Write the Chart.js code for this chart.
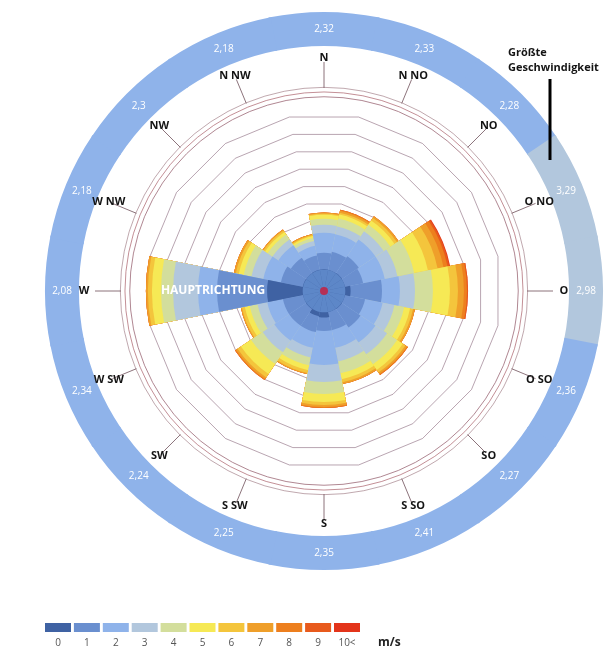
<!DOCTYPE html>
<html>
<head>
<meta charset="utf-8">
<title>Windrose</title>
<script src="https://cdn.jsdelivr.net/npm/chart.js@4.4.0/dist/chart.umd.min.js"></script>
<style>
  html, body { margin: 0; padding: 0; background: #fff; }
  #wrap { width: 609px; height: 663px; position: relative; }
</style>
</head>
<body>
<div id="wrap"><canvas id="windRose"></canvas></div>
<script>
// Himmelsrichtungen im Uhrzeigersinn ab Norden
const directions = ['N', 'N NO', 'NO', 'O NO', 'O', 'O SO', 'SO', 'S SO', 'S', 'S SW', 'SW', 'W SW', 'W', 'W NW', 'NW', 'N NW'];

// Geschwindigkeitsklassen (Legende)
const speedLabels = ['0', '1', '2', '3', '4', '5', '6', '7', '8', '9', '10<'];
const speedColors = ['#3f62a3', '#6a8fcf', '#8fb3ea', '#b2c7dd', '#d3de9c', '#f6e955',
                     '#f4c53c', '#ef9f2a', '#ed7f1e', '#e85a1c', '#e3341a'];
const calmColor = '#5d87c8';

// Durchschnittsgeschwindigkeit je Richtung (äußerer Ring)
const avgSpeed = [2.32, 2.33, 2.28, 3.29, 2.98, 2.36, 2.27, 2.41, 2.35, 2.25, 2.24, 2.34, 2.08, 2.18, 2.3, 2.18];

// Anteil je Klasse und Richtung (in Rasterringen)
const calm    = [1.2, 1.2, 1.2, 1.2, 1.2, 1.2, 1.2, 1.2, 1.2, 1.2, 1.2, 1.2, 1.2, 1.2, 1.2, 1.2];
const speed0  = [1.22, 1.2, 1.22, 1.2, 1.5, 1.2, 1.22, 1.2, 1.5, 1.45, 1.22, 1.2, 3.21, 1.22, 1.2, 1.22];
const speed1  = [0.93, 1.05, 1.14, 1.05, 1.77, 1.16, 1.26, 1.05, 0.75, 0.91, 1.14, 1.16, 2.82, 1.26, 1.05, 0.82];
const speed2  = [1.13, 1.01, 1.13, 1.24, 1.01, 1.01, 1.01, 1.01, 1.92, 0.9, 1.01, 0.9, 1.07, 1.01, 0.85, 0.56];
const speed3  = [0.45, 0.45, 0.56, 0.73, 0.85, 0.68, 0.79, 0.79, 0.96, 0.56, 0.79, 0.56, 1.41, 0.68, 0.39, 0.28];
const speed4  = [0.34, 0.45, 0.45, 0.96, 1.01, 0.56, 0.68, 0.68, 0.68, 0.45, 0.79, 0.45, 0.68, 0.45, 0.34, 0.17];
const speed5  = [0.23, 0.23, 0.28, 0.79, 0.96, 0.34, 0.39, 0.34, 0.45, 0.28, 0.68, 0.28, 0.51, 0.28, 0.17, 0.11];
const speed6  = [0.06, 0.11, 0.17, 0.56, 0.45, 0.17, 0.17, 0.17, 0.17, 0.17, 0.23, 0.17, 0.23, 0.17, 0.11, 0.06];
const speed7  = [0.06, 0.11, 0.11, 0.34, 0.34, 0.11, 0.11, 0.11, 0.11, 0.06, 0.11, 0.06, 0.11, 0.11, 0.06, 0.06];
const speed8  = [0, 0.06, 0, 0.23, 0.17, 0, 0.06, 0, 0.06, 0, 0.06, 0, 0, 0, 0, 0];
const speed9  = [0, 0, 0, 0.11, 0.06, 0, 0, 0, 0, 0, 0, 0, 0, 0, 0, 0];
const speed10 = [0, 0, 0, 0.04, 0, 0, 0, 0, 0, 0, 0, 0, 0, 0, 0, 0];

const speedSeries = [speed0, speed1, speed2, speed3, speed4, speed5, speed6, speed7, speed8, speed9, speed10];

// gestapelte Werte: jede Klasse beginnt dort, wo die vorige endet
const datasets = [{ label: 'Windstille', data: calm, backgroundColor: calmColor }];
let running = directions.map(() => 0);
speedSeries.forEach((series, k) => {
  running = running.map((v, i) => v + series[i]);
  datasets.push({ label: speedLabels[k] + ' m/s', data: running, backgroundColor: speedColors[k] });
});

const FONT = '"Open Sans", "DejaVu Sans", sans-serif';

// Ring, Beschriftungen und Legende
const roseDecor = {
  id: 'roseDecor',
  afterDraw(chart) {
    const ctx = chart.ctx;
    const scale = chart.scales.r;
    const cx = scale.xCenter, cy = scale.yCenter;
    const n = directions.length;
    const step = Math.PI * 2 / n;
    const ang = i => i * step - Math.PI / 2;
    ctx.save();

    // äußere Rasterkreise
    [[10.95, 'rgba(150,95,110,0.75)'], [11.22, 'rgba(170,95,105,0.7)'], [11.48, 'rgba(150,110,120,0.6)']].forEach(([v, c]) => {
      ctx.beginPath();
      ctx.arc(cx, cy, scale.getDistanceFromCenterForValue(v), 0, Math.PI * 2);
      ctx.strokeStyle = c;
      ctx.lineWidth = 1;
      ctx.stroke();
    });

    // Mittelpunkt
    ctx.beginPath();
    ctx.arc(cx, cy, 4, 0, Math.PI * 2);
    ctx.fillStyle = '#b52f55';
    ctx.fill();

    // Ring mit Durchschnittsgeschwindigkeit
    const rIn = 245, rOut = 279, rText = 262;
    const pad = 0.004;
    avgSpeed.forEach((v, i) => {
      const a = ang(i);
      ctx.beginPath();
      ctx.arc(cx, cy, rOut, a - step / 2 - pad, a + step / 2 + pad);
      ctx.arc(cx, cy, rIn, a + step / 2 + pad, a - step / 2 - pad, true);
      ctx.closePath();
      ctx.fillStyle = speedColors[Math.min(10, Math.round(v))];
      ctx.fill();
    });
    ctx.font = '10px ' + FONT;
    ctx.fillStyle = '#ffffff';
    ctx.textAlign = 'center';
    ctx.textBaseline = 'middle';
    avgSpeed.forEach((v, i) => {
      const a = ang(i);
      ctx.fillText(String(v).replace('.', ','), cx + rText * Math.cos(a), cy + rText * Math.sin(a));
    });

    // Richtungsstriche und -namen
    ctx.strokeStyle = 'rgba(120,90,100,0.85)';
    ctx.lineWidth = 1;
    directions.forEach((d, i) => {
      const a = ang(i);
      ctx.beginPath();
      ctx.moveTo(cx + 203 * Math.cos(a), cy + 203 * Math.sin(a));
      ctx.lineTo(cx + 229 * Math.cos(a), cy + 229 * Math.sin(a));
      ctx.stroke();
    });
    ctx.font = 'bold 11px ' + FONT;
    ctx.fillStyle = '#141414';
    directions.forEach((d, i) => {
      const a = ang(i);
      const rl = 233 + (d.length === 1 ? 7 * Math.abs(Math.cos(a)) : 0);
      ctx.fillText(d, cx + rl * Math.cos(a), cy + rl * Math.sin(a));
    });

    // Hauptrichtung
    const totals = running;
    const main = totals.indexOf(Math.max(...totals));
    const am = ang(main);
    ctx.font = 'bold 12px ' + FONT;
    ctx.fillStyle = '#ffffff';
    ctx.fillText('HAUPTRICHTUNG', cx + 111 * Math.cos(am), cy + 111 * Math.sin(am));

    // Hinweis größte Geschwindigkeit
    ctx.textAlign = 'left';
    ctx.fillStyle = '#141414';
    ctx.font = 'bold 11px ' + FONT;
    ctx.fillText('Größte', 508, 53);
    ctx.fillText('Geschwindigkeit', 508, 68);
    ctx.beginPath();
    ctx.moveTo(550, 79);
    ctx.lineTo(550, 160);
    ctx.strokeStyle = '#000';
    ctx.lineWidth = 3;
    ctx.stroke();

    // Legende
    const lx = 45, ly = 623, pitch = 28.9;
    ctx.textAlign = 'center';
    ctx.font = '10px ' + FONT;
    speedLabels.forEach((lab, k) => {
      const x = lx + k * pitch;
      ctx.fillStyle = speedColors[k];
      ctx.fillRect(x, ly, 26, 9);
      ctx.fillStyle = '#555';
      ctx.fillText(lab, x + 13, 643);
    });
    ctx.textAlign = 'left';
    ctx.font = 'bold 12px ' + FONT;
    ctx.fillStyle = '#222';
    ctx.fillText('m/s', 378, 643);

    ctx.restore();
  }
};

new Chart(document.getElementById('windRose'), {
  type: 'polarArea',
  data: { labels: directions, datasets: datasets },
  options: {
    responsive: true,
    maintainAspectRatio: false,
    animation: false,
    events: [],
    layout: { padding: { left: 119, right: 80, top: 87, bottom: 168 } },
    elements: { arc: { borderWidth: 0 } },
    plugins: { legend: { display: false }, tooltip: { enabled: false } },
    scales: {
      r: {
        min: 0,
        max: 11.5,
        startAngle: -11.25,
        z: 1,
        ticks: { display: false, stepSize: 1 },
        pointLabels: { display: false },
        angleLines: { display: false },
        grid: {
          circular: false,
          lineWidth: 1,
          color: ctx => (ctx.index >= 1 && ctx.index <= 10) ? 'rgba(115,75,100,0.5)' : 'rgba(0,0,0,0)'
        }
      }
    }
  },
  plugins: [roseDecor]
});
</script>
</body>
</html>
